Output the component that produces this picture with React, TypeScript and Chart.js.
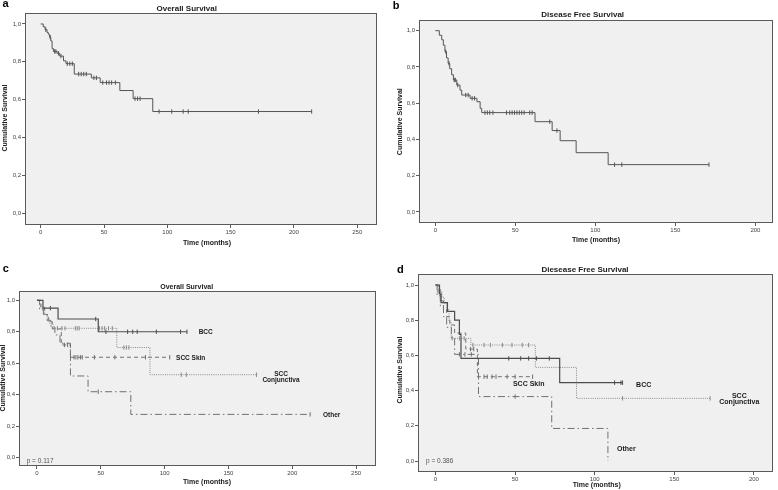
import React, { useEffect, useRef } from "react";
import { Chart, registerables } from "chart.js";
Chart.register(...registerables);

// ---------- data ----------
const yTicks = [0, 0.2, 0.4, 0.6, 0.8, 1.0];
const yTickLabels = ["0,0", "0,2", "0,4", "0,6", "0,8", "1,0"];
const xTicks250 = [0, 50, 100, 150, 200, 250];
const xTicks200 = [0, 50, 100, 150, 200];

// a: Overall Survival
const aTime = [0, 2, 3.5, 5, 6, 7, 8, 9, 10, 13, 15, 18, 20, 26.5, 40, 47, 62.5, 73, 88.5, 214];
const aSurv = [1, 0.985, 0.97, 0.955, 0.945, 0.93, 0.91, 0.87, 0.855, 0.845, 0.83, 0.805, 0.79, 0.735, 0.715, 0.69, 0.648, 0.605, 0.537, 0.537];
const aCensor = [4, 7.5, 11, 12, 14, 16, 21, 23, 25, 30, 32, 34, 36, 42, 44, 49, 52, 54, 56, 59, 74.5, 76.5, 78.5, 93.5, 103.5, 112.5, 116.5, 172, 214];

// b: Disease Free Survival
const bTime = [0, 2.5, 4, 5, 6, 7, 8, 9, 10.2, 11.3, 13.4, 15.4, 16.5, 21.7, 26, 28, 29, 62.3, 73, 78, 88, 108, 171];
const bSurv = [1, 0.975, 0.95, 0.92, 0.885, 0.85, 0.82, 0.79, 0.757, 0.728, 0.7, 0.672, 0.645, 0.627, 0.608, 0.572, 0.548, 0.498, 0.449, 0.393, 0.327, 0.261, 0.261];
const bCensor = [6.5, 8.5, 11.8, 12.5, 14, 19, 20.5, 23, 24.5, 31, 32.5, 34, 36, 44.5, 46.5, 48, 49.5, 51, 52.5, 54, 55.5, 59, 60.5, 71.5, 76, 112, 116.5, 171];

// c: Overall Survival by group
const cBccTime = [0, 4.7, 16.5, 48, 117.5];
const cBccSurv = [1, 0.95, 0.881, 0.8, 0.8];
const cBccCensor = [10.5, 46, 54, 71, 75, 78.5, 93.5, 112.5, 117.5];

const cConjTime = [0, 2, 4, 6, 8, 10, 12.5, 62.5, 88.5, 172];
const cConjSurv = [1, 0.97, 0.94, 0.91, 0.88, 0.85, 0.822, 0.7, 0.527, 0.527];
const cConjCensor = [5, 9, 16, 19.5, 22, 30, 31.5, 33, 49, 51, 53, 56, 59, 68, 70, 72, 113, 117, 172];

const cSkinTime = [0, 3, 6, 9, 12, 19, 26.2, 104];
const cSkinSurv = [1, 0.955, 0.91, 0.864, 0.818, 0.716, 0.638, 0.638];
const cSkinCensor = [21.5, 24, 29, 30.5, 32, 34, 35.5, 45, 61, 85, 104];

const cOtherTime = [0, 2, 5, 8, 11, 14, 18, 26.2, 40, 73.5, 214];
const cOtherSurv = [1, 0.94, 0.91, 0.87, 0.83, 0.78, 0.727, 0.519, 0.419, 0.275, 0.275];
const cOtherCensor = [48, 214];

// d: Disease Free Survival by group
const dBccTime = [0, 2.5, 3.5, 7.5, 12, 15, 16, 78, 117.5];
const dBccSurv = [1, 0.95, 0.9, 0.85, 0.8, 0.72, 0.583, 0.445, 0.445];
const dBccCensor = [46, 53.5, 58.5, 63.5, 71.5, 112.5, 116.5, 117.5];

const dConjTime = [0, 2, 4, 5.5, 7, 8.5, 9.8, 22.2, 62.7, 88.6, 172.5];
const dConjSurv = [1, 0.965, 0.93, 0.895, 0.86, 0.79, 0.697, 0.659, 0.532, 0.356, 0.356];
const dConjCensor = [3, 10.5, 15, 18, 23.5, 30.5, 34.5, 42, 48, 54.5, 58.5, 117.5, 172.5];

const dSkinTime = [0, 1.5, 3, 5, 7, 9, 12, 19, 26.3, 61];
const dSkinSurv = [1, 0.955, 0.91, 0.865, 0.82, 0.773, 0.727, 0.636, 0.479, 0.479];
const dSkinCensor = [22, 24, 30.5, 32.5, 35.5, 38, 45, 50, 61];

const dOtherTime = [0, 1, 3, 5, 7, 10, 12, 27, 73, 108.3];
const dOtherSurv = [1, 0.94, 0.88, 0.82, 0.76, 0.7, 0.606, 0.366, 0.185, 0];
const dOtherCensor = [15, 18.5, 22.5, 50];

// ---------- helpers ----------
const FONT = '"Liberation Sans", Arial, Helvetica, sans-serif';
const W = 389;

type Curve = {
  time: number[];
  surv: number[];
  censor: number[];
  color: string;
  dash: number[];
  width: number;
};

type TextItem = {
  text: string;
  x: number;
  y: number;
  size: number;
  bold?: boolean;
  color?: string;
  align?: CanvasTextAlign;
  baseline?: CanvasTextBaseline;
  rotate?: number;
};

type PanelDef = {
  left: number;
  top: number;
  height: number;
  area: { l: number; t: number; r: number; b: number };
  xMin: number;
  xMax: number;
  yMin: number;
  yMax: number;
  xTicks: number[];
  curves: Curve[];
  texts: TextItem[];
};

function stepAt(time: number[], surv: number[], t: number) {
  let v = surv[0];
  for (let i = 0; i < time.length; i++) {
    if (time[i] <= t) v = surv[i];
  }
  return v;
}

const decoPlugin = {
  id: "panelDeco",
  beforeDatasetsDraw(chart: any) {
    const { ctx, chartArea } = chart;
    const { left, top, right, bottom } = chartArea;
    ctx.save();
    ctx.fillStyle = "#f0f0f0";
    ctx.fillRect(left, top, right - left, bottom - top);
    ctx.restore();
  },
  afterDraw(chart: any, _args: any, opts: any) {
    const { ctx, chartArea } = chart;
    const { left, top, right, bottom } = chartArea;
    ctx.save();
    ctx.strokeStyle = "#5a5a5a";
    ctx.lineWidth = 1;
    ctx.strokeRect(Math.round(left) + 0.5, Math.round(top) + 0.5, Math.round(right - left) - 1, Math.round(bottom - top) - 1);
    const texts: TextItem[] = (opts && opts.texts) || [];
    for (const t of texts) {
      ctx.save();
      ctx.font = `${t.bold ? "bold " : ""}${t.size}px ${FONT}`;
      ctx.fillStyle = t.color || "#1a1a1a";
      ctx.textAlign = t.align || "center";
      ctx.textBaseline = t.baseline || "middle";
      ctx.translate(t.x, t.y);
      if (t.rotate) ctx.rotate(t.rotate);
      ctx.fillText(t.text, 0, 0);
      ctx.restore();
    }
    ctx.restore();
  },
};

function Panel({ def }: { def: PanelDef }) {
  const ref = useRef<HTMLCanvasElement | null>(null);
  useEffect(() => {
    if (!ref.current) return;
    const H = def.height;
    const datasets: any[] = [];
    def.curves.forEach((c) => {
      datasets.push({
        data: c.time.map((t, i) => ({ x: t, y: c.surv[i] })),
        borderColor: c.color,
        borderWidth: c.width,
        borderDash: c.dash,
        stepped: true,
        pointRadius: 0,
        fill: false,
        tension: 0,
      });
      datasets.push({
        data: c.censor.map((t) => ({ x: t, y: stepAt(c.time, c.surv, t) })),
        showLine: false,
        pointStyle: "line",
        rotation: 90,
        pointRadius: 2.2,
        pointBorderWidth: 1,
        borderColor: c.color,
        backgroundColor: c.color,
      });
    });
    const yW = 18;
    const xH = 12;
    const chart = new Chart(ref.current, {
      type: "line",
      data: { datasets },
      plugins: [decoPlugin as any],
      options: {
        animation: false,
        responsive: false,
        maintainAspectRatio: false,
        devicePixelRatio: 1,
        layout: {
          padding: {
            left: def.area.l - yW,
            right: W - def.area.r,
            top: def.area.t,
            bottom: H - def.area.b - xH,
          },
        },
        plugins: {
          legend: { display: false },
          tooltip: { enabled: false },
          title: { display: false },
          panelDeco: { texts: def.texts },
        } as any,
        scales: {
          x: {
            type: "linear",
            min: def.xMin,
            max: def.xMax,
            afterBuildTicks: (s: any) => {
              s.ticks = def.xTicks.map((v) => ({ value: v }));
            },
            afterFit: (s: any) => {
              s.height = xH;
            },
            grid: { display: true, drawOnChartArea: false, drawTicks: true, tickLength: 3, color: "#5a5a5a" },
            border: { display: false },
            ticks: {
              font: { size: 6, family: FONT },
              color: "#444",
              padding: 1,
              maxRotation: 0,
              autoSkip: false,
              callback: (v: any) => String(v),
            },
          },
          y: {
            type: "linear",
            min: def.yMin,
            max: def.yMax,
            afterBuildTicks: (s: any) => {
              s.ticks = yTicks.map((v) => ({ value: v }));
            },
            afterFit: (s: any) => {
              s.width = yW;
            },
            grid: { display: true, drawOnChartArea: false, drawTicks: true, tickLength: 3, color: "#5a5a5a" },
            border: { display: false },
            ticks: {
              font: { size: 6, family: FONT },
              color: "#444",
              padding: 1,
              autoSkip: false,
              callback: (_v: any, i: number) => yTickLabels[i],
            },
          },
        },
      } as any,
    });
    return () => chart.destroy();
  }, [def]);
  return (
    <canvas
      ref={ref}
      width={W}
      height={def.height}
      style={{ position: "absolute", left: def.left, top: def.top, width: W, height: def.height }}
    />
  );
}

const DARK = "#4d4d4d";
const MID = "#707070";
const LIGHT = "#8a8a8a";
const ROT = -Math.PI / 2;

const panels: PanelDef[] = [
  {
    left: 0,
    top: 0,
    height: 252,
    area: { l: 25, t: 13, r: 377, b: 225 },
    xMin: -12.4,
    xMax: 265.6,
    yMin: -0.063,
    yMax: 1.058,
    xTicks: xTicks250,
    curves: [{ time: aTime, surv: aSurv, censor: aCensor, color: "#555", dash: [], width: 1 }],
    texts: [
      { text: "a", x: 2.5, y: 7, size: 11, bold: true, align: "left", baseline: "alphabetic", color: "#000" },
      { text: "Overall Survival", x: 186.7, y: 8.3, size: 8, bold: true },
      { text: "Cumulative Survival", x: 5, y: 118, size: 7, bold: true, rotate: ROT },
      { text: "Time (months)", x: 207, y: 243, size: 7, bold: true },
    ],
  },
  {
    left: 389,
    top: 0,
    height: 252,
    area: { l: 30, t: 20, r: 384, b: 223 },
    xMin: -10.2,
    xMax: 211,
    yMin: -0.061,
    yMax: 1.059,
    xTicks: xTicks200,
    curves: [{ time: bTime, surv: bSurv, censor: bCensor, color: "#555", dash: [], width: 1 }],
    texts: [
      { text: "b", x: 3.7, y: 8.5, size: 11, bold: true, align: "left", baseline: "alphabetic", color: "#000" },
      { text: "Disease Free Survival", x: 193.7, y: 15, size: 8, bold: true },
      { text: "Cumulative Survival", x: 11, y: 121.7, size: 7, bold: true, rotate: ROT },
      { text: "Time (months)", x: 207, y: 240, size: 7, bold: true },
    ],
  },
  {
    left: 0,
    top: 245,
    height: 245,
    area: { l: 19, t: 46, r: 376, b: 221 },
    xMin: -14.1,
    xMax: 265.6,
    yMin: -0.053,
    yMax: 1.059,
    xTicks: xTicks250,
    curves: [
      { time: cBccTime, surv: cBccSurv, censor: cBccCensor, color: DARK, dash: [], width: 1.2 },
      { time: cConjTime, surv: cConjSurv, censor: cConjCensor, color: LIGHT, dash: [1, 1.2], width: 1 },
      { time: cSkinTime, surv: cSkinSurv, censor: cSkinCensor, color: MID, dash: [4, 3], width: 1 },
      { time: cOtherTime, surv: cOtherSurv, censor: cOtherCensor, color: MID, dash: [7, 3, 1.5, 3], width: 1 },
    ],
    texts: [
      { text: "c", x: 2.7, y: 26.8, size: 11, bold: true, align: "left", baseline: "alphabetic", color: "#000" },
      { text: "Overall Survival", x: 186.7, y: 41.7, size: 7, bold: true },
      { text: "Cumulative Survival", x: 3.5, y: 133, size: 7, bold: true, rotate: ROT },
      { text: "Time (months)", x: 207, y: 237.3, size: 7, bold: true },
      { text: "BCC", x: 205.7, y: 87.7, size: 6.5, bold: true },
      { text: "SCC Skin", x: 190.7, y: 113.3, size: 6.5, bold: true },
      { text: "SCC", x: 281, y: 129.3, size: 6.5, bold: true },
      { text: "Conjunctiva", x: 281, y: 135.7, size: 6.5, bold: true },
      { text: "Other", x: 331.7, y: 170.7, size: 6.5, bold: true },
      { text: "p = 0.117", x: 26.7, y: 216, size: 6.5, align: "left", color: "#555" },
    ],
  },
  {
    left: 389,
    top: 245,
    height: 245,
    area: { l: 29, t: 29, r: 388, b: 227 },
    xMin: -11,
    xMax: 212,
    yMin: -0.0625,
    yMax: 1.0625,
    xTicks: xTicks200,
    curves: [
      { time: dBccTime, surv: dBccSurv, censor: dBccCensor, color: DARK, dash: [], width: 1.2 },
      { time: dConjTime, surv: dConjSurv, censor: dConjCensor, color: LIGHT, dash: [1, 1.2], width: 1 },
      { time: dSkinTime, surv: dSkinSurv, censor: dSkinCensor, color: MID, dash: [4, 3], width: 1 },
      { time: dOtherTime, surv: dOtherSurv, censor: dOtherCensor, color: MID, dash: [7, 3, 1.5, 3], width: 1 },
    ],
    texts: [
      { text: "d", x: 8, y: 27.8, size: 11, bold: true, align: "left", baseline: "alphabetic", color: "#000" },
      { text: "Diesease Free Survival", x: 196, y: 25, size: 8, bold: true },
      { text: "Cumulative Survival", x: 11, y: 125, size: 7, bold: true, rotate: ROT },
      { text: "Time (months)", x: 207.7, y: 240, size: 7, bold: true },
      { text: "SCC Skin", x: 139.7, y: 139, size: 7, bold: true },
      { text: "BCC", x: 254.7, y: 140, size: 7, bold: true },
      { text: "SCC", x: 350.3, y: 150.7, size: 7, bold: true },
      { text: "Conjunctiva", x: 350.3, y: 157.3, size: 7, bold: true },
      { text: "Other", x: 237.3, y: 204, size: 7, bold: true },
      { text: "p = 0.386", x: 37, y: 216, size: 6.5, align: "left", color: "#555" },
    ],
  },
];

export default function App() {
  return (
    <div style={{ position: "absolute", left: 0, top: 0, width: 778, height: 490, background: "#fff", overflow: "hidden" }}>
      {panels.map((p, i) => (
        <Panel key={i} def={p} />
      ))}
    </div>
  );
}
